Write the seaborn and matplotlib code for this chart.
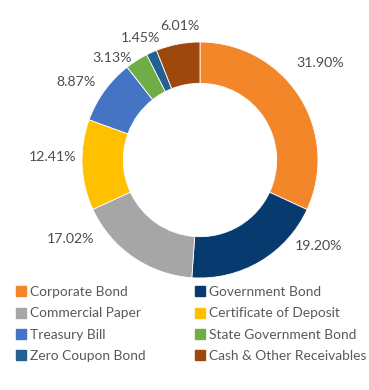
import numpy as np
import matplotlib
matplotlib.use("Agg")
import matplotlib.pyplot as plt
from matplotlib.lines import Line2D
import seaborn as sns

categories = ["Corporate Bond", "Government Bond", "Commercial Paper",
              "Certificate of Deposit", "Treasury Bill", "State Government Bond",
              "Zero Coupon Bond", "Cash & Other Receivables"]
shares = [31.90, 19.20, 17.02, 12.41, 8.87, 3.13, 1.45, 6.01]
colors = ["#F4862A", "#073A6F", "#A6A6A6", "#FFC000",
          "#4674C5", "#71AD47", "#265F92", "#9E480E"]

# label layout (Excel "best fit" style): angle nudge in degrees and distance from centre
label_nudge = [6.4, 23.4, -24, -3.6, 3.7, 8.3, 1.7, -2.3]
label_dist = [1.31, 1.24, 1.29, 1.25, 1.24, 1.14, 1.15, 1.15]

sns.set_theme(style="white")
plt.rcParams["font.family"] = ["Lato", "DejaVu Sans"]
text_color = "#595959"

fig = plt.figure(figsize=(3.69, 3.90), dpi=100)
ax = fig.add_axes([0.2222, 0.2872, 0.6396, 0.6051])

wedges, _ = ax.pie(shares, colors=colors, startangle=90, counterclock=False,
                   radius=1.0, wedgeprops=dict(width=0.35, edgecolor="white", linewidth=0.6))
ax.set_xlim(-1, 1)
ax.set_ylim(-1, 1)
ax.set_aspect("equal")
ax.axis("off")

for w, v, dn, r in zip(wedges, shares, label_nudge, label_dist):
    ang = np.deg2rad((w.theta1 + w.theta2) / 2 + dn)
    ax.text(r * np.cos(ang), r * np.sin(ang), f"{v:.2f}%", ha="center", va="center",
            fontsize=10.2, color="#4D4D4D")

# legend reads row-wise, matplotlib fills column-wise
order = [0, 2, 4, 6, 1, 3, 5, 7]
handles = [Line2D([], [], marker="s", linestyle="none", markersize=6.5,
                  markerfacecolor=colors[i], markeredgecolor=colors[i]) for i in order]
labels = [categories[i] for i in order]
fig.legend(handles, labels, ncol=2, loc="upper left", bbox_to_anchor=(0.025, 0.284),
           frameon=False, fontsize=9.9, labelcolor=text_color, handlelength=0.7,
           handletextpad=0.3, labelspacing=0.68, columnspacing=3.6, borderpad=0)

fig.savefig("out.png", dpi=100, facecolor="white")
